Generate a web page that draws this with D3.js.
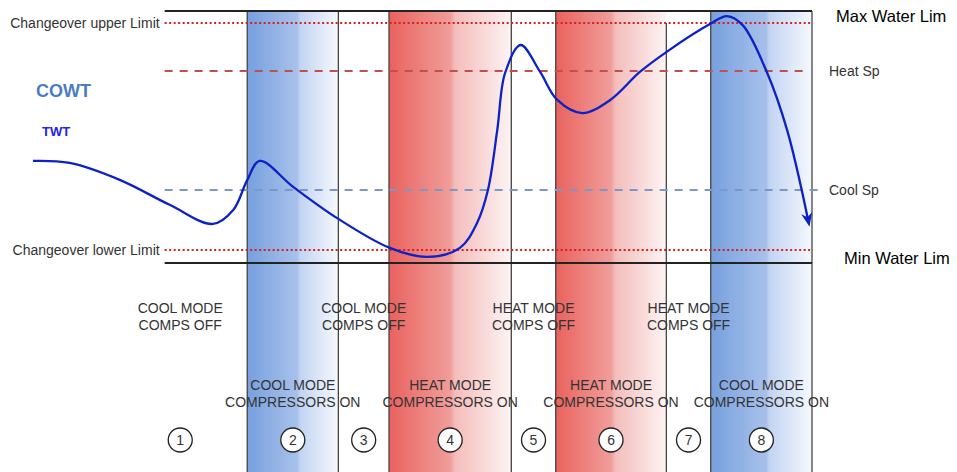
<!DOCTYPE html>
<html>
<head>
<meta charset="utf-8">
<script src="https://cdn.jsdelivr.net/npm/d3@7"></script>
<style>
  body { margin: 0; background: #fff; }
  svg { font-family: "Liberation Sans", Arial, sans-serif; }
</style>
</head>
<body>
<svg id="chart"></svg>
<script>
const width = 957;
const height = 472;

// time axis 0..100, water temperature 0 (min water lim) .. 100 (max water lim)
const linesStart = 16.9;
const phaseStart = [10.3, 27.5, 39.2, 45.7, 61.4, 67.1, 81.3, 87.0];
const phaseEnd   = [27.5, 39.2, 45.7, 61.4, 67.1, 81.3, 87.0, 100];
const phaseNum   = ["1", "2", "3", "4", "5", "6", "7", "8"];
const phaseMode  = ["cool", "cool", "cool", "heat", "heat", "heat", "heat", "cool"];
const phaseComp  = [false, true, false, true, false, true, false, true];
const phaseLine1 = ["COOL MODE", "COOL MODE", "COOL MODE", "HEAT MODE", "HEAT MODE", "HEAT MODE", "HEAT MODE", "COOL MODE"];
const phaseLine2 = ["COMPS OFF", "COMPRESSORS ON", "COMPS OFF", "COMPRESSORS ON", "COMPS OFF", "COMPRESSORS ON", "COMPS OFF", "COMPRESSORS ON"];

const limitNames  = ["Changeover upper Limit", "Changeover lower Limit"];
const limitValues = [95.2, 5.2];
const spNames     = ["Heat Sp", "Cool Sp"];
const spValues    = [76.2, 29];
const waterNames  = ["Max Water Lim", "Min Water Lim"];
const waterValues = [100, 0];

const twtTime = [0, 4.7, 11.2, 17.6, 23.1, 25.7, 27.5, 29.1, 33.4, 39.0, 45.8, 50.6, 54.8, 57.0, 58.4, 59.6, 60.6, 62.6, 65.1, 67.3, 70.5, 74.1, 77.9, 81.3, 86.9, 89.1, 91.1, 94.2, 96.8, 99.5];
const twtTemp = [40.5, 39.7, 32.9, 23.0, 15.5, 21.0, 32.9, 40.5, 30.2, 17.9, 6.0, 2.4, 6.0, 15.9, 29.0, 52.8, 75.4, 86.5, 75.8, 64.7, 59.5, 64.7, 75.8, 83.7, 94.8, 98.0, 94.4, 75.8, 52.8, 17.1];

const svg = d3.select("#chart").attr("width", width).attr("height", height);

const x = d3.scaleLinear().domain([0, 100]).range([33, 812]);
const y = d3.scaleLinear().domain([0, 100]).range([263, 11]);

const defs = svg.append("defs");
function addGrad(id, stops) {
  const g = defs.append("linearGradient").attr("id", id)
    .attr("x1", "0%").attr("x2", "100%").attr("y1", "0%").attr("y2", "0%");
  stops.forEach(s => g.append("stop").attr("offset", s[0]).attr("stop-color", s[1]));
}
addGrad("gCool", [["0%", "#77a0de"], ["55%", "#a8c1eb"], ["58%", "#c2d4f2"], ["100%", "#f6f9fe"]]);
addGrad("gHeat", [["0%", "#e9625e"], ["50%", "#f09d9a"], ["54%", "#f4bdbb"], ["100%", "#fdf4f4"]]);

defs.append("marker").attr("id", "arrow")
  .attr("viewBox", "0 0 10 10").attr("refX", 5).attr("refY", 5)
  .attr("markerWidth", 6).attr("markerHeight", 6).attr("orient", "auto")
  .append("path").attr("d", "M0,1 L10,5 L0,9 L3,5 Z").attr("fill", "#0c22c4");

const phases = phaseNum.map((n, i) => ({
  n, x0: phaseStart[i], x1: phaseEnd[i], mode: phaseMode[i], comp: phaseComp[i],
  l1: phaseLine1[i], l2: phaseLine2[i]
}));

// coloured compressor-on bands
svg.selectAll("rect.band").data(phases.filter(d => d.comp)).join("rect")
  .attr("class", "band")
  .attr("x", d => x(d.x0)).attr("y", y(100))
  .attr("width", d => x(d.x1) - x(d.x0)).attr("height", height - y(100))
  .attr("fill", d => d.mode === "cool" ? "url(#gCool)" : "url(#gHeat)");

// phase dividers
const dividers = phaseStart.slice(1).concat([100]);
svg.selectAll("line.div").data(dividers).join("line")
  .attr("class", "div")
  .attr("x1", d => x(d)).attr("x2", d => x(d))
  .attr("y1", d => (d === phaseStart[6] ? y(limitValues[0]) : y(100)))
  .attr("y2", height)
  .attr("stroke", "#444").attr("stroke-width", 1.3);

// water limit lines
svg.selectAll("line.water").data(waterValues).join("line")
  .attr("class", "water")
  .attr("x1", x(linesStart)).attr("x2", x(100))
  .attr("y1", d => y(d)).attr("y2", d => y(d))
  .attr("stroke", "#222").attr("stroke-width", 2);

// changeover limits (dotted)
svg.selectAll("line.limit").data(limitValues).join("line")
  .attr("class", "limit")
  .attr("x1", x(linesStart)).attr("x2", x(100))
  .attr("y1", d => y(d)).attr("y2", d => y(d))
  .attr("stroke", "#d42020").attr("stroke-width", 2).attr("stroke-dasharray", "2,2.5");

// setpoints (dashed)
svg.selectAll("line.sp").data(spValues).join("line")
  .attr("class", "sp")
  .attr("x1", x(linesStart)).attr("x2", (d, i) => i === 0 ? x(99) : x(101))
  .attr("y1", d => y(d)).attr("y2", d => y(d))
  .attr("stroke", (d, i) => i === 0 ? "#c0504d" : "#7a97c9")
  .attr("stroke-width", 2).attr("stroke-dasharray", "8,7");

// TWT curve
const line = d3.line().x(d => x(d[0])).y(d => y(d[1])).curve(d3.curveCatmullRom.alpha(0.5));
svg.append("path")
  .datum(twtTime.map((t, i) => [t, twtTemp[i]]))
  .attr("d", line)
  .attr("fill", "none").attr("stroke", "#0c22c4").attr("stroke-width", 2.3)
  .attr("marker-end", "url(#arrow)");

// left labels
svg.selectAll("text.limit").data(limitValues).join("text")
  .attr("class", "limit")
  .attr("x", x(linesStart) - 5).attr("y", d => y(d) + 5)
  .attr("text-anchor", "end").attr("font-size", 14).attr("fill", "#333")
  .text((d, i) => limitNames[i]);

// right labels
svg.selectAll("text.water").data(waterValues).join("text")
  .attr("class", "water")
  .attr("x", (d, i) => i === 0 ? 836 : 844)
  .attr("y", (d, i) => i === 0 ? y(d) + 11 : y(d) + 1)
  .attr("font-size", 16.5).attr("fill", "#000")
  .text((d, i) => waterNames[i]);

svg.selectAll("text.sp").data(spValues).join("text")
  .attr("class", "sp")
  .attr("x", 829).attr("y", d => y(d) + 5)
  .attr("font-size", 14).attr("fill", "#333")
  .text((d, i) => spNames[i]);

svg.append("text").attr("x", 36).attr("y", 97)
  .attr("font-size", 18).attr("font-weight", "bold").attr("fill", "#4a7cc4").text("COWT");
svg.append("text").attr("x", 42).attr("y", 136)
  .attr("font-size", 13).attr("font-weight", "bold").attr("fill", "#2323e6").text("TWT");

// phase texts
const phaseText = svg.selectAll("g.ptext").data(phases).join("g")
  .attr("class", "ptext")
  .attr("transform", d => `translate(${x((d.x0 + d.x1) / 2)},${d.comp ? 390 : 313})`);
phaseText.append("text").attr("text-anchor", "middle").attr("font-size", 14).attr("fill", "#333")
  .text(d => d.l1);
phaseText.append("text").attr("text-anchor", "middle").attr("font-size", 14).attr("fill", "#333")
  .attr("y", 16.5).text(d => d.l2);

// numbered circles
const circ = svg.selectAll("g.num").data(phases).join("g")
  .attr("class", "num")
  .attr("transform", d => `translate(${x((d.x0 + d.x1) / 2)},440)`);
circ.append("circle").attr("r", 12).attr("fill", "#fff").attr("stroke", "#222").attr("stroke-width", 1.3);
circ.append("text").attr("text-anchor", "middle").attr("dy", 5).attr("font-size", 14).attr("fill", "#333")
  .text(d => d.n);
</script>
</body>
</html>
